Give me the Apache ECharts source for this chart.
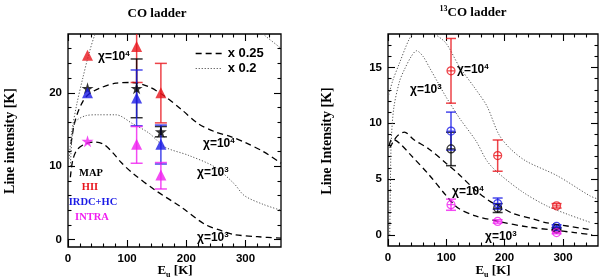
<!DOCTYPE html>
<html><head><meta charset="utf-8">
<script src="https://cdn.jsdelivr.net/npm/echarts@6/dist/echarts.min.js"></script>
<style>html,body{margin:0;padding:0;background:#fff}#c{width:600px;height:280px}</style>
</head><body><div id="c"></div>
<script>
// ================= LEFT PANEL : CO ladder =================
const coXTicks = [0, 100, 200, 300];
const coYTicks = [0, 10, 20];
// observed points: [Eu (K), intensity (K), error low, error high]
const coMAP   = [[33, 20.6, null, null], [116, 20.6, 16.6, 24.6], [157, 14.7, 14.0, 15.4]];
const coHII   = [[33, 25.1, null, null], [116, 26.3, 21.4, 31.2], [157, 20.0, 15.9, 24.0]];
const coIRDC  = [[33, 20.0, null, null], [116, 19.3, 15.5, 23.1], [157, 13.0, 10.3, 15.6]];
const coINTRA = [[33, 13.4, null, null], [116, 13.0, 10.4, 15.4], [157, 8.8, 6.9, 10.5]];
// PDR models
const coDash1e4 = [[5,13],[10,15.5],[16,17.2],[25,18.8],[35,19.8],[53,20.6],[81,21.3],[109,21.4],[137,20.8],[164,19.5],[192,17.7],[220,15.8],[248,14.7],[276,14.0],[300,13.2],[330,12.0],[360,10.4]];
const coDash1e3 = [[4,8.5],[8,10.8],[15,12.2],[28,13.0],[45,13.3],[60,13.0],[75,11.9],[90,10.5],[110,9.0],[148,6.7],[192,4.4],[231,2.1],[260,1.2],[280,0.7],[320,0.4],[360,0.2]];
const coDot1e4  = [[2,11],[6,14.5],[15,18.5],[25,22],[35,25.2],[46,28],[70,32],[150,34],[250,31.5],[300,30],[331,27.9],[356,26.3],[360,26]];
const coDot1e3  = [[4,10],[7,14],[12,16],[31,16.9],[50,17],[81,17],[109,15.8],[137,14.5],[164,12.6],[203,11.5],[248,9.9],[281,7.6],[298,6.0],[330,4.8],[360,4.0]];

// ================= RIGHT PANEL : 13CO ladder =================
const c13XTicks = [0, 100, 200, 300];
const c13YTicks = [0, 5, 10, 15];
const c13MAP   = [[108, 7.7, 6.2, 9.2], [188, 2.4, 2.0, 2.8], [289, 0.55, 0.45, 0.65]];
const c13HII   = [[108, 14.7, 11.8, 17.6], [188, 7.1, 5.7, 8.5], [289, 2.6, 2.4, 2.8]];
const c13IRDC  = [[108, 9.3, 7.6, 11.0], [188, 2.8, 2.3, 3.3], [289, 0.75, 0.6, 0.9]];
const c13INTRA = [[108, 2.7, 2.2, 3.2], [188, 1.2, 1.05, 1.35], [289, 0.2, 0.1, 0.3]];
const c13Dash1e4 = [[3,7.8],[15,8.8],[28,9.2],[45,8.5],[70,7.7],[100,6.4],[120,5.5],[150,4.0],[175,3.0],[190,2.6],[215,1.9],[250,1.4],[270,1.1],[300,0.85],[350,0.45]];
const c13Dash1e3 = [[2,8],[7,8.6],[20,8.2],[40,7.1],[70,5.4],[100,3.5],[120,2.4],[150,1.7],[190,1.2],[240,0.7],[280,0.45],[320,0.2],[350,0]];
const c13Dot1e4  = [[0,12.3],[8,13.8],[19,15.3],[36,17.5],[48,18.4],[60,18.9],[75,18.2],[99,17.2],[122,15.1],[151,13],[170,11.5],[190,9.0],[210,7.7],[237,6.6],[290,5.3],[346,3.5],[360,3.2]];
const c13Dot1e3  = [[3,0],[4,4],[5.5,8.3],[10,11.4],[20,13.8],[28,14.8],[40,16],[49,16.5],[60,16],[71,15],[85,13.7],[99,12.4],[122,10.5],[151,8.4],[170,6.6],[191,5.45],[232,3.8],[272,2.6],[310,1.8],[346,1.13]];

// ---------------------------------------------------------
const RED = '#e8141c', BLUE = '#1a1ae6', MAG = '#f01ef0', BLK = '#000';
const STAR = 'path://M50,0 L61,35 L98,35 L68,57 L79,91 L50,70 L21,91 L32,57 L2,35 L39,35 Z';
const OCIRC = 'path://M0,5 A5,5 0 1,1 10,5 A5,5 0 1,1 0,5 Z M0,5 L10,5';
const SERIF = 'Liberation Serif', SANS = 'Liberation Sans';

function minors(min, max, step, majors) {
  const out = [];
  for (let v = Math.ceil(min / step) * step; v < max; v += step) {
    const r = Math.round(v * 1000) / 1000;
    if (!majors.includes(r) && r > min) out.push(r);
  }
  return out;
}

const grids = [
  { left: 68, top: 34, width: 213, height: 213 },
  { left: 388, top: 34, width: 210, height: 212 }
];
const panels = [
  { xMin: 0, xMax: 360, yMin: -1, yMax: 28, xMaj: coXTicks, yMaj: coYTicks, xStep: 20, yStep: 2 },
  { xMin: 0, xMax: 360, yMin: -1, yMax: 18, xMaj: c13XTicks, yMaj: c13YTicks, xStep: 20, yStep: 1 }
];
const xAxes = [], yAxes = [];
const tickLab = { color: '#000', fontFamily: SANS, fontWeight: 'bold', fontSize: 11.5 };
panels.forEach((p, g) => {
  const xMin = minors(p.xMin, p.xMax, p.xStep, p.xMaj);
  const yMin = minors(p.yMin, p.yMax, p.yStep, p.yMaj);
  const mk = (pos, vals, len, lab, min, max, majVals) => ({
    gridIndex: g, type: 'value', min: min, max: max, position: pos,
    axisLine: { show: false, onZero: false }, splitLine: { show: false },
    axisTick: { show: true, inside: true, length: len, customValues: vals, lineStyle: { color: '#000', width: 1.1 } },
    axisLabel: lab ? Object.assign({ show: true, customValues: majVals, margin: 6 }, tickLab) : { show: false }
  });
  xAxes.push(mk('bottom', p.xMaj, 7, true, p.xMin, p.xMax, p.xMaj));
  xAxes.push(mk('bottom', xMin, 3.5, false, p.xMin, p.xMax));
  xAxes.push(mk('top', p.xMaj, 7, false, p.xMin, p.xMax));
  xAxes.push(mk('top', xMin, 3.5, false, p.xMin, p.xMax));
  yAxes.push(mk('left', p.yMaj, 7, true, p.yMin, p.yMax, p.yMaj));
  yAxes.push(mk('left', yMin, 3.5, false, p.yMin, p.yMax));
  yAxes.push(mk('right', p.yMaj, 7, false, p.yMin, p.yMax));
  yAxes.push(mk('right', yMin, 3.5, false, p.yMin, p.yMax));
});

const series = [];
function model(g, name, data, dashed) {
  const col = dashed ? '#000' : '#555';
  series.push({
    type: 'line', name: name, xAxisIndex: g * 4, yAxisIndex: g * 4, data: data, color: col,
    symbol: 'none', showSymbol: false, smooth: 0.3, silent: true, clip: true, z: 1,
    lineStyle: dashed ? { color: col, width: 1.3, type: [6, 4] } : { color: col, width: 1, type: [1.2, 1.8] }
  });
}
function errbars(g, data, color, cap) {
  series.push({
    type: 'custom', xAxisIndex: g * 4, yAxisIndex: g * 4, data: data, clip: true, z: 2, silent: true,
    encode: { x: 0, y: 1 },
    renderItem: function (params, api) {
      const x = api.value(0), lo = api.value(2), hi = api.value(3);
      if (!isFinite(lo) || !isFinite(hi) || lo === null || hi === null) return;
      const a = api.coord([x, lo]), b = api.coord([x, hi]);
      const st = { stroke: color, lineWidth: 1.5, opacity: 0.8 };
      return { type: 'group', children: [
        { type: 'line', shape: { x1: a[0], y1: a[1], x2: b[0], y2: b[1] }, style: st },
        { type: 'line', shape: { x1: a[0] - cap, y1: a[1], x2: a[0] + cap, y2: a[1] }, style: st },
        { type: 'line', shape: { x1: b[0] - cap, y1: b[1], x2: b[0] + cap, y2: b[1] }, style: st }
      ]};
    }
  });
}
function points(g, data, color, symbol, size, open) {
  series.push({
    type: 'scatter', xAxisIndex: g * 4, yAxisIndex: g * 4, data: data, z: 3, silent: true,
    symbol: symbol, symbolSize: size,
    itemStyle: open ? { color: 'rgba(0,0,0,0)', borderColor: color, borderWidth: 1.2 } : { color: color }
  });
}

// left panel
model(0, 'x 0.25', coDash1e4, true);
model(0, 'x 0.25', coDash1e3, true);
model(0, 'x 0.2', coDot1e4, false);
model(0, 'x 0.2', coDot1e3, false);
errbars(0, coHII, RED, 6);
errbars(0, coMAP, BLK, 6);
errbars(0, coIRDC, BLUE, 6);
errbars(0, coINTRA, MAG, 6);
points(0, coHII, RED, 'triangle', 11);
points(0, coMAP, BLK, STAR, 12);
points(0, coIRDC, BLUE, 'triangle', 11);
points(0, coINTRA, MAG, function (v, p) { return p.dataIndex === 0 ? STAR : 'triangle'; }, function (v, p) { return p.dataIndex === 0 ? 12 : 11; });

// right panel
model(1, 'm4', c13Dash1e4, true);
model(1, 'm3', c13Dash1e3, true);
model(1, 'd4', c13Dot1e4, false);
model(1, 'd3', c13Dot1e3, false);
errbars(1, c13HII, RED, 5);
errbars(1, c13MAP, BLK, 5);
errbars(1, c13IRDC, BLUE, 5);
errbars(1, c13INTRA, MAG, 5);
points(1, c13HII, RED, OCIRC, 8, true);
points(1, c13MAP, BLK, OCIRC, 8, true);
points(1, c13IRDC, BLUE, OCIRC, 8, true);
points(1, c13INTRA, MAG, OCIRC, 8, true);

// text
const chiRich = {
  a: { fontFamily: SANS, fontWeight: 'bold', fontSize: 12, fill: '#000', lineHeight: 15 },
  s: { fontFamily: SANS, fontWeight: 'bold', fontSize: 8, fill: '#000', verticalAlign: 'top', lineHeight: 15 }
};
function chi(x, y, exp) {
  return { type: 'text', x: x, y: y, z: 10, style: { text: '{a|χ=10}{s|' + exp + '}', rich: chiRich, align: 'left', verticalAlign: 'middle' } };
}
function txt(x, y, s, color, size, extra) {
  return Object.assign({ type: 'text', x: x, y: y, z: 10,
    style: { text: s, fill: color, fontFamily: SERIF, fontWeight: 'bold', fontSize: size, align: 'center', verticalAlign: 'middle' } }, extra || {});
}
const titleRich = {
  t: { fontFamily: SERIF, fontWeight: 'bold', fontSize: 13, fill: '#000', lineHeight: 16 },
  s: { fontFamily: SERIF, fontWeight: 'bold', fontSize: 8, fill: '#000', verticalAlign: 'top', lineHeight: 16 }
};
const eRich = {
  t: { fontFamily: SERIF, fontWeight: 'bold', fontSize: 13, fill: '#000', lineHeight: 16 },
  s: { fontFamily: SERIF, fontWeight: 'bold', fontSize: 8, fill: '#000', verticalAlign: 'bottom', lineHeight: 16 }
};
const graphic = [
  { type: 'text', x: 157, y: 14, style: { text: '{t|CO ladder}', rich: titleRich, align: 'center', verticalAlign: 'middle' } },
  { type: 'text', x: 473, y: 13, style: { text: '{s|13}{t|CO ladder}', rich: titleRich, align: 'center', verticalAlign: 'middle' } },
  txt(10, 141, 'Line intensity [K]', '#000', 14, { rotation: Math.PI / 2 }),
  txt(327, 141, 'Line Intensity [K]', '#000', 14, { rotation: Math.PI / 2 }),
  { type: 'text', x: 175, y: 271, style: { text: '{t|E}{s|u}{t| [K]}', rich: eRich, align: 'center', verticalAlign: 'middle' } },
  { type: 'text', x: 493, y: 271, style: { text: '{t|E}{s|u}{t| [K]}', rich: eRich, align: 'center', verticalAlign: 'middle' } },
  txt(91, 173, 'MAP', BLK, 10.5),
  txt(90, 187.5, 'HII', RED, 10.5),
  txt(93, 202, 'IRDC+HC', BLUE, 10.5),
  txt(92, 217, 'INTRA', MAG, 10.5),
  chi(98, 57, 4), chi(203, 144, 4), chi(197, 173, 3), chi(197, 238, 3),
  chi(457, 70, 4), chi(410, 90, 3), chi(452, 192, 4), chi(485, 237, 3)
];

const chart = echarts.init(document.getElementById('c'), null, { renderer: 'canvas' });
chart.setOption({
  animation: false,
  backgroundColor: '#fff',
  grid: grids.map(g => Object.assign({ show: true, borderColor: '#000', borderWidth: 1.3, backgroundColor: 'rgba(0,0,0,0)' }, g)),
  xAxis: xAxes,
  yAxis: yAxes,
  legend: {
    data: ['x 0.25', 'x 0.2'], orient: 'vertical', left: 190, top: 42, itemWidth: 27, itemHeight: 12, itemGap: 2,
    selectedMode: false,
    itemStyle: { opacity: 0, borderWidth: 0 },
    lineStyle: { color: 'inherit', type: 'inherit', width: 'inherit' },
    textStyle: { color: '#000', fontFamily: SANS, fontWeight: 'bold', fontSize: 13 }
  },
  graphic: graphic,
  series: series
});
</script></body></html>
